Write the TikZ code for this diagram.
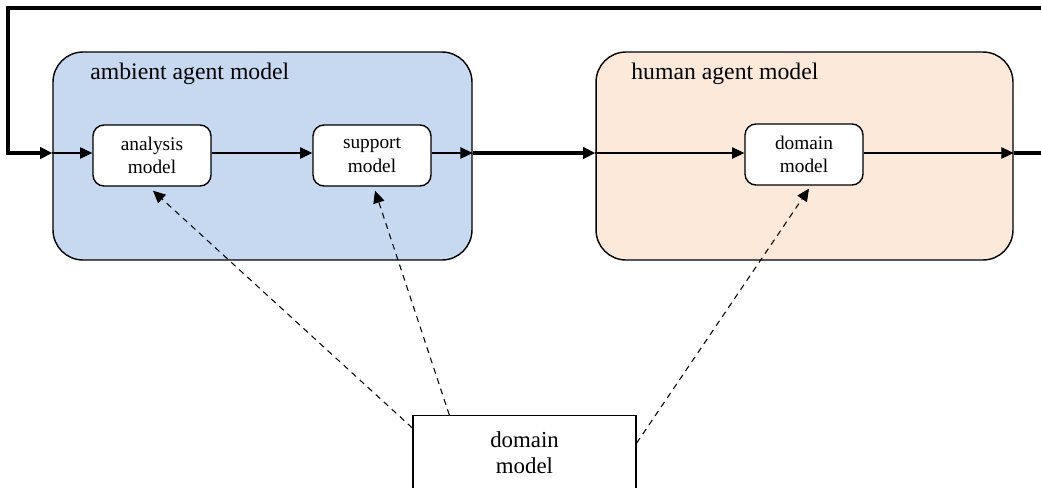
\documentclass[tikz,border=0pt]{standalone}
\usepackage{fontspec}
\setmainfont{Liberation Serif}
\usepackage{xcolor}
\usepackage{tikz}
\usetikzlibrary{arrows.meta,calc}
\definecolor{ambfill}{RGB}{198,217,240}
\definecolor{humfill}{RGB}{253,233,217}
\tikzset{
  outer/.style={draw,line width=0.8pt,rounded corners=0.6cm,minimum width=#1,minimum height=4.16cm,inner sep=0pt},
  inbox/.style={draw,line width=0.8pt,fill=white,rounded corners=0.22cm,minimum width=2.36cm,minimum height=1.22cm,align=center,font=\fontsize{11}{13.5}\selectfont,inner sep=0pt},
  dombox/.style={draw,line width=0.8pt,fill=white,minimum width=4.46cm,align=center,font=\fontsize{13}{15}\selectfont,inner ysep=9pt},
  ttl/.style={anchor=base west,font=\fontsize{13.5}{15}\selectfont,inner sep=0pt},
  tip/.style={-{Triangle[length=7pt,width=6.5pt]}},
  thn/.style={tip,line width=0.6pt},
  thk/.style={tip,line width=1.9pt},
  dsh/.style={tip,line width=0.6pt,dash pattern=on 3.4pt off 2.8pt}
}

\begin{document}
\begin{tikzpicture}[x=0.02cm,y=-0.02cm]
\useasboundingbox (0,0) rectangle (1041,487);
% outer agent models
\node[outer=8.38cm,fill=ambfill] (amb) at (262.5,156) {};
\node[outer=8.34cm,fill=humfill] (hum) at (804.5,156) {};
\node[ttl] at (90,79) {ambient agent model};
\node[ttl] at (631,79) {human agent model};
% inner models
\node[inbox] (ana) at (152,155.5) {analysis\\model};
\node[inbox] (sup) at (372,155.5) {support\\model};
\node[inbox] (dom) at (804,154.5) {domain\\model};
\node[dombox,anchor=north] (dmain) at (524.5,415) {domain\\model\\[2.2em]\mbox{}};
% flow
\coordinate (row) at (0,153);
\coordinate (topr) at (1045,8); \coordinate (topl) at (8,8); \coordinate (botl) at (8,153);
\coordinate (outr) at (1045,153);
\draw[thk] (topr) -- (topl) -- (botl) -- (row -| amb.west);
\draw[thn] (row -| amb.west) -- (row -| ana.west);
\draw[thn] (row -| ana.east) -- (row -| sup.west);
\draw[thn] (row -| sup.east) -- (row -| amb.east);
\draw[thk] (row -| amb.east) -- (row -| hum.west);
\draw[thn] (row -| hum.west) -- (row -| dom.west);
\draw[thn] (row -| dom.east) -- (row -| hum.east);
\draw[line width=1.9pt] (row -| hum.east) -- (outr);
% domain model links
\draw[dsh] ($(dmain.north west)+(0,13)$) -- ($(ana.south)+(1,4)$);
\draw[dsh] ($(dmain.north west)+(37,0)$) -- ($(sup.south)+(3,4)$);
\draw[dsh] ($(dmain.north east)+(0,28)$) -- ($(dom.south)+(5,3)$);
\end{tikzpicture}
\end{document}
